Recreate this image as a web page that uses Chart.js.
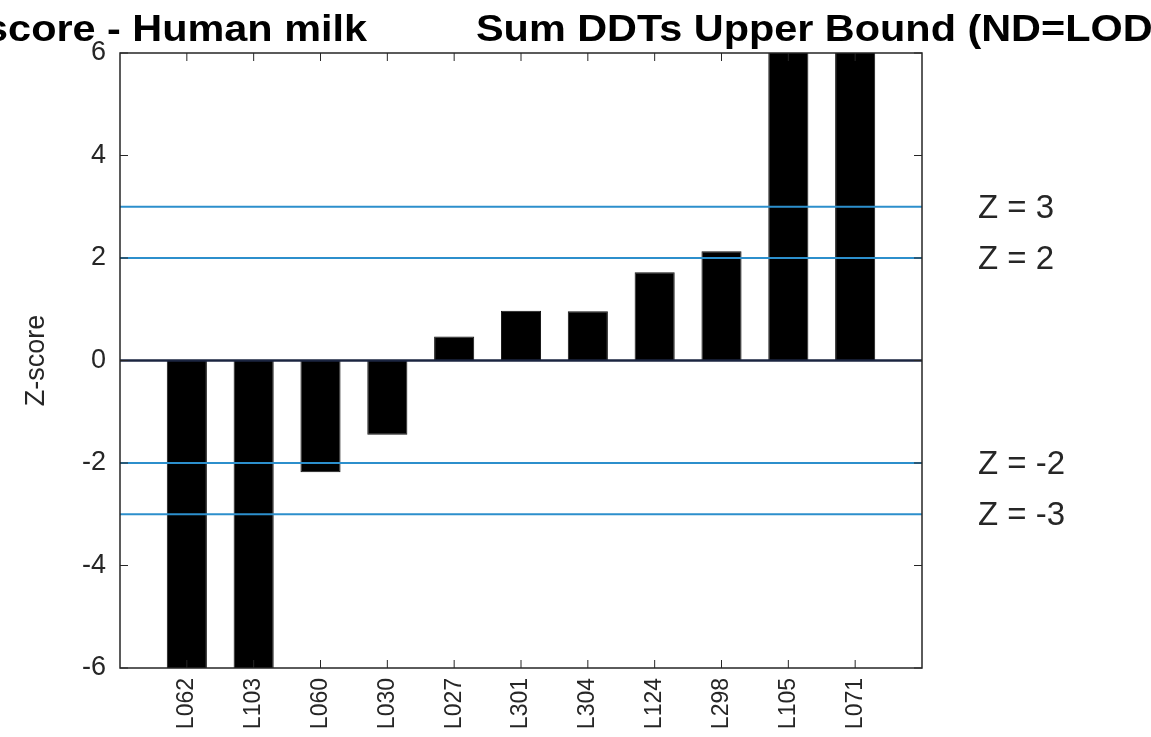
<!DOCTYPE html>
<html>
<head>
<meta charset="utf-8">
<title>Z-score - Human milk</title>
<script src="https://cdn.jsdelivr.net/npm/chart.js@4.4.1/dist/chart.umd.min.js"></script>
<style>
  html, body { margin: 0; padding: 0; background: #fff; }
  canvas { display: block; }
</style>
</head>
<body>
<canvas id="chart" width="1151" height="737"></canvas>
<script>
// lab codes, sorted by z-score
const xLabels = ["L062", "L103", "L060", "L030", "L027", "L301", "L304", "L124", "L298", "L105", "L071"];
const zScores = [-8.4, -7.6, -2.18, -1.45, 0.47, 0.97, 0.96, 1.72, 2.13, 7.9, 8.6];

// limit lines
const refLevels = [3, 2, -2, -3];
const refLabels = ["Z = 3", "Z = 2", "Z = -2", "Z = -3"];
const yTicks = [-6, -4, -2, 0, 2, 4, 6];

const titleLeft = "Z-score - Human milk";
const titleRight = "Sum DDTs Upper Bound (ND=LOD)";

const ink = "#262626";
const font = "'Liberation Sans', Arial, Helvetica, sans-serif";

const barData = xLabels.map((l, i) => ({ x: i + 1, y: zScores[i] }));

const lineSets = refLevels.map((v) => ({
  type: "line",
  data: [{ x: 0, y: v }, { x: xLabels.length + 1, y: v }],
  borderColor: "#2c8fcc",
  borderWidth: 2,
  pointRadius: 0,
  order: 0,
}));

// frame, inward ticks, right-hand labels and title
const decor = {
  id: "decor",
  afterDatasetsDraw(chart) {
    const { ctx, chartArea: a, scales } = chart;
    ctx.save();
    ctx.strokeStyle = ink;
    ctx.lineWidth = 1.5;
    ctx.strokeRect(a.left, a.top, a.right - a.left, a.bottom - a.top);
    ctx.lineWidth = 1;
    ctx.beginPath();
    for (let i = 1; i <= xLabels.length; i++) {
      const x = scales.x.getPixelForValue(i);
      ctx.moveTo(x, a.bottom); ctx.lineTo(x, a.bottom - 8);
      ctx.moveTo(x, a.top); ctx.lineTo(x, a.top + 8);
    }
    yTicks.forEach((t) => {
      const y = scales.y.getPixelForValue(t);
      ctx.moveTo(a.left, y); ctx.lineTo(a.left + 8, y);
      ctx.moveTo(a.right, y); ctx.lineTo(a.right - 8, y);
    });
    ctx.stroke();

    ctx.fillStyle = ink;
    ctx.font = "33px " + font;
    ctx.textAlign = "left";
    ctx.textBaseline = "middle";
    refLevels.forEach((v, i) => {
      ctx.fillText(refLabels[i], a.right + 56, scales.y.getPixelForValue(v) + 2);
    });

    ctx.fillStyle = "#000";
    ctx.font = "bold 36px " + font;
    ctx.textBaseline = "alphabetic";
    ctx.save();
    ctx.translate(367, 41);
    ctx.scale(1.15, 1);
    ctx.textAlign = "right";
    ctx.fillText(titleLeft, 0, 0);
    ctx.restore();
    ctx.save();
    ctx.translate(476, 41);
    ctx.scale(1.15, 1);
    ctx.textAlign = "left";
    ctx.fillText(titleRight, 0, 0);
    ctx.restore();
    ctx.restore();
  },
};

new Chart(document.getElementById("chart"), {
  type: "bar",
  data: {
    datasets: [
      {
        type: "bar",
        data: barData,
        backgroundColor: "#000",
        borderColor: "#111",
        borderWidth: 1,
        barPercentage: 0.6,
        categoryPercentage: 1,
        order: 2,
      },
      ...lineSets,
      {
        type: "line",
        data: [{ x: 0, y: 0 }, { x: xLabels.length + 1, y: 0 }],
        borderColor: "#1b2540",
        borderWidth: 2.5,
        pointRadius: 0,
        order: 0,
      },
    ],
  },
  options: {
    responsive: false,
    animation: false,
    devicePixelRatio: 1,
    layout: { padding: { top: 53, right: 229, left: 0, bottom: 0 } },
    plugins: { legend: { display: false }, tooltip: { enabled: false }, title: { display: false } },
    scales: {
      x: {
        type: "linear",
        offset: false,
        min: 0,
        max: xLabels.length + 1,
        grid: { display: false, drawTicks: false, offset: false },
        border: { display: false },
        afterFit: (s) => { s.height = 69; },
        afterBuildTicks: (s) => {
          s.ticks = Array.from({ length: xLabels.length + 2 }, (_, i) => ({ value: i }));
        },
        ticks: {
          autoSkip: false,
          maxRotation: 90,
          minRotation: 90,
          padding: 10,
          color: ink,
          font: { family: font, size: 23 },
          callback: (v) => xLabels[v - 1] || "",
        },
      },
      y: {
        min: -6,
        max: 6,
        grid: { display: false, drawTicks: false },
        border: { display: false },
        afterFit: (s) => { s.width = 120; },
        afterBuildTicks: (s) => { s.ticks = yTicks.map((v) => ({ value: v })); },
        ticks: { padding: 14, color: ink, font: { family: font, size: 27 } },
        title: {
          display: true,
          text: "Z-score",
          color: ink,
          font: { family: font, size: 27 },
          padding: { top: 20, bottom: 0 },
        },
      },
    },
  },
  plugins: [decor],
});
</script>
</body>
</html>
